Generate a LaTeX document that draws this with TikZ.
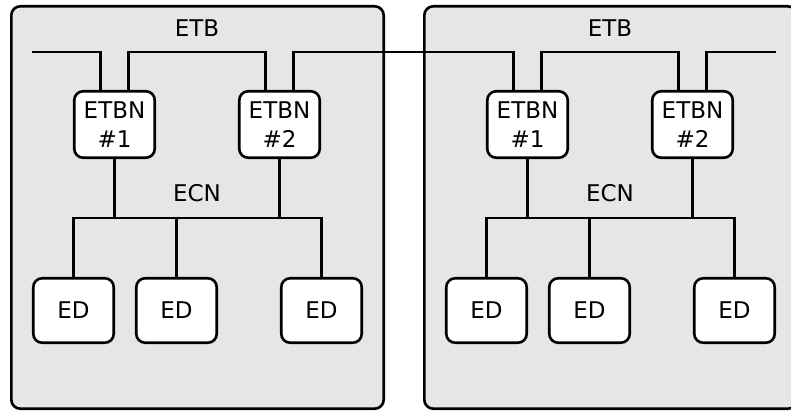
\documentclass[tikz,border=0pt]{standalone}
\usepackage{fontspec}
\setmainfont{DejaVu Sans}
\usetikzlibrary{positioning}
\definecolor{consist}{HTML}{E6E6E6}

\begin{document}
\begin{tikzpicture}[x=1pt,y=-1pt,line width=2.6pt,
  car/.style={draw,fill=consist,rounded corners=9pt},
  dev/.style={draw,fill=white,rounded corners=9pt,align=center,minimum width=80.5pt,font=\fontsize{23}{29}\selectfont},
  etbn/.style={dev,minimum height=66.5pt},
  ed/.style={dev,minimum height=64.5pt},
  lbl/.style={font=\fontsize{23}{29}\selectfont}]
\useasboundingbox (0,0) rectangle (791,412);
\foreach \c/\dx in {l/0,r/413}{
  \draw[car] (\dx+11.3,6.3) rectangle (\dx+383.7,408.7);
  \node[lbl] (\c-etb) at (\dx+197,28) {ETB};
  \node[etbn] (\c-n1) at (\dx+114.5,124.5) {ETBN\\\#1};
  \node[etbn] (\c-n2) at (\dx+279.5,124.5) {ETBN\\\#2};
  \node[lbl] (\c-ecn) at (\dx+197,193) {ECN};
  \node[ed] (\c-d1) at (\dx+73.5,310.5) {ED};
  \node[ed] (\c-d2) at (\dx+176.5,310.5) {ED};
  \node[ed] (\c-d3) at (\dx+321.5,310.5) {ED};
  \coordinate (\c-bus) at (\dx+197,218);
  \draw (\c-d1.north) -- (\c-d1.north |- \c-bus) -- (\c-d3.north |- \c-bus) -- (\c-d3.north);
  \draw (\c-d2.north) -- (\c-d2.north |- \c-bus);
  \draw (\c-n1.south) -- (\c-n1.south |- \c-bus);
  \draw (\c-n2.south) -- (\c-n2.south |- \c-bus);
}
% train backbone
\coordinate (etbw) at (32,52);
\coordinate (etbe) at (776,52);
\draw (etbw) -| ([xshift=-14pt]l-n1.north);
\foreach \a/\b in {l-n1/l-n2,l-n2/r-n1,r-n1/r-n2}
  \draw ([xshift=14pt]\a.north) -- ++(0,-38) -| ([xshift=-14pt]\b.north);
\draw ([xshift=14pt]r-n2.north) |- (etbe);
\end{tikzpicture}
\end{document}
